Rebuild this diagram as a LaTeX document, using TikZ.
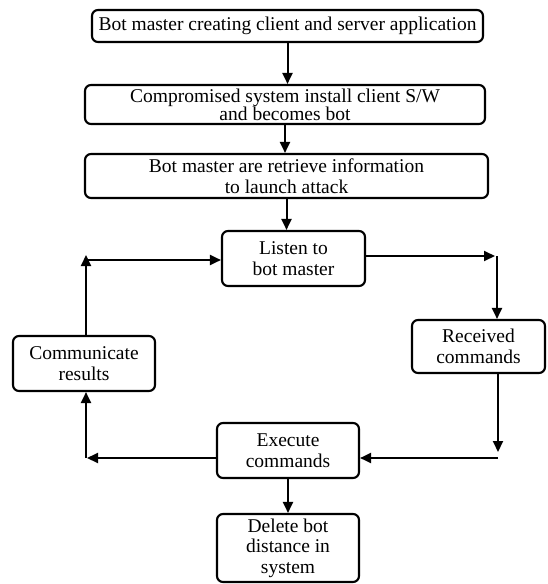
\documentclass[tikz,border=0pt]{standalone}
\usepackage{fontspec}
\setmainfont{Liberation Serif}
\usetikzlibrary{arrows.meta}
\begin{document}
\begin{tikzpicture}[x=1pt,y=-1pt,
  box/.style={draw, line width=2.1pt, rounded corners=6pt, align=center,
    inner sep=0pt, font=\fontsize{19.5}{20.5}\selectfont},
  arr/.style={line width=2pt, -{Triangle[length=11pt,width=10pt]}}]
\useasboundingbox (0,0) rectangle (547,584);

% process boxes
\node[box, minimum width=391pt, minimum height=32pt] (b1) at (287.5,26)
  {Bot master creating client and server application};
\node[box, minimum width=400pt, minimum height=39pt,
  font=\fontsize{19.5}{18}\selectfont] (b2) at (285,104.5)
  {Compromised system install client S/W\\and becomes bot};
\node[box, minimum width=403pt, minimum height=44pt] (b3) at (286.5,176)
  {Bot master are retrieve information\\to launch attack};
\node[box, minimum width=143pt, minimum height=55pt] (listen) at (293.5,258.5)
  {Listen to\\bot master};
\node[box, minimum width=133pt, minimum height=53pt] (recv) at (478.5,346.5)
  {Received\\commands};
\node[box, minimum width=142pt, minimum height=55pt] (exec) at (288,450.5)
  {Execute\\commands};
\node[box, minimum width=142pt, minimum height=55pt] (comm) at (84,363.5)
  {Communicate\\results};
\node[box, minimum width=142pt, minimum height=68pt] (del) at (288,548)
  {Delete bot\\distance in\\system};

% corner points of the loop
\coordinate (c1) at (495,256);
\coordinate (c2) at (497,256);
\coordinate (c3) at (498,452);
\coordinate (c4) at (498,458);
\coordinate (c5) at (87,458);
\coordinate (c6) at (86,458);
\coordinate (c7) at (86,255);
\coordinate (c8) at (86,260);

% straight flow at the top
\draw[arr] (b1.south) -- (b1.south |- b2.north);
\draw[arr] (b2.south) -- (b2.south |- b3.north);
\draw[arr] (b3.south) -- (b3.south |- listen.north);

% command loop
\draw[arr] (listen.east |- c1) -- (c1);
\draw[arr] (c2) -- (c2 |- recv.north);
\draw[arr] (c3 |- recv.south) -- (c3);
\draw[arr] (c4) -- (c4 -| exec.east);
\draw[arr] (c5 -| exec.west) -- (c5);
\draw[arr] (c6) -- (c6 |- comm.south);
\draw[arr] (c7 |- comm.north) -- (c7);
\draw[arr] (c8) -- (c8 -| listen.west);

% final step
\draw[arr] (exec.south) -- (del.north);
\end{tikzpicture}
\end{document}
